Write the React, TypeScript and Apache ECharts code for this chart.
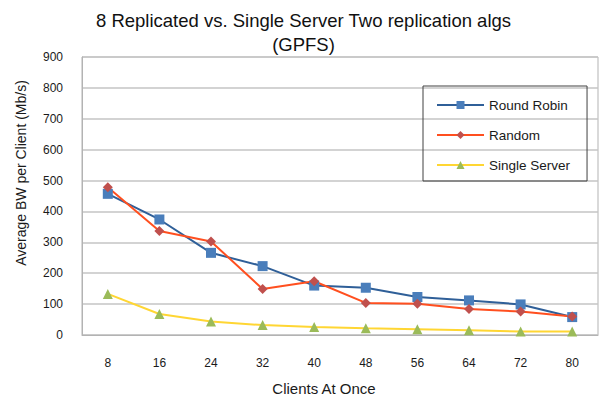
import React, { useEffect, useRef } from "react";
import * as echarts from "echarts";

const categories = ["8", "16", "24", "32", "40", "48", "56", "64", "72", "80"];
const roundRobin = [457, 374, 266, 223, 160, 153, 123, 112, 99, 58];
const randomAlg = [478, 337, 303, 149, 174, 104, 101, 84, 76, 60];
const singleServer = [133, 68, 44, 32, 26, 22, 19, 15, 11, 11];
const yTicks = { min: 0, max: 900, interval: 100 };

const FONT = "'Liberation Sans', Arial, sans-serif";

export default function App() {
  const ref = useRef<HTMLDivElement>(null);
  useEffect(() => {
    if (!ref.current) return;
    const chart = echarts.init(ref.current, undefined, { renderer: "svg" });
    chart.setOption({
      animation: false,
      backgroundColor: "#ffffff",
      textStyle: { fontFamily: FONT },
      title: {
        text: "8 Replicated vs. Single Server Two replication algs\n(GPFS)",
        left: "center",
        top: 3,
        textStyle: {
          fontFamily: FONT,
          fontSize: 18.5,
          fontWeight: "normal",
          color: "#111111",
          lineHeight: 24,
        },
      },
      legend: {
        orient: "vertical",
        left: 423,
        top: 86,
        padding: [12, 17, 9, 13],
        itemGap: 16,
        itemWidth: 47,
        itemHeight: 10,
        borderColor: "#404040",
        borderWidth: 1,
        textStyle: { fontFamily: FONT, fontSize: 13.5, color: "#1a1a1a" },
        data: ["Round Robin", "Random", "Single Server"],
      },
      grid: {
        left: 82,
        right: 9,
        top: 57,
        bottom: 66,
        show: true,
        borderColor: "#b3b3b3",
        borderWidth: 1,
        containLabel: false,
      },
      xAxis: {
        type: "category",
        data: categories,
        boundaryGap: true,
        name: "Clients At Once",
        nameLocation: "middle",
        nameGap: 46,
        nameTextStyle: { fontFamily: FONT, fontSize: 15, color: "#1a1a1a", padding: [0, 32, 0, 0] },
        axisLine: { lineStyle: { color: "#b3b3b3", width: 1 } },
        axisTick: { show: false },
        axisLabel: { margin: 22, fontFamily: FONT, fontSize: 12, color: "#1a1a1a" },
      },
      yAxis: {
        type: "value",
        min: yTicks.min,
        max: yTicks.max,
        interval: yTicks.interval,
        name: "Average BW per Client (Mb/s)",
        nameLocation: "middle",
        nameGap: 54,
        nameRotate: 90,
        nameTextStyle: { fontFamily: FONT, fontSize: 14, color: "#1a1a1a", padding: [0, 0, 0, 46] },
        axisLine: { show: true, lineStyle: { color: "#b3b3b3", width: 1 } },
        axisTick: { show: false },
        axisLabel: { margin: 19, fontFamily: FONT, fontSize: 12, color: "#1a1a1a" },
        splitLine: { show: true, lineStyle: { color: "#c4c4c4", width: 1.5 } },
      },
      series: [
        {
          name: "Round Robin",
          type: "line",
          data: roundRobin,
          symbol: "rect",
          symbolSize: 10,
          lineStyle: { color: "#2f5f98", width: 2 },
          itemStyle: { color: "#4a7ebb" },
        },
        {
          name: "Random",
          type: "line",
          data: randomAlg,
          symbol: "diamond",
          symbolSize: 10,
          lineStyle: { color: "#ff4f1f", width: 2 },
          itemStyle: { color: "#c0504d" },
        },
        {
          name: "Single Server",
          type: "line",
          data: singleServer,
          symbol: "triangle",
          symbolSize: 10,
          lineStyle: { color: "#ffd633", width: 2 },
          itemStyle: { color: "#9bbb59" },
        },
      ],
    });
    return () => chart.dispose();
  }, []);
  return <div ref={ref} style={{ width: 607, height: 401, position: "absolute", left: 0, top: 0 }} />;
}
